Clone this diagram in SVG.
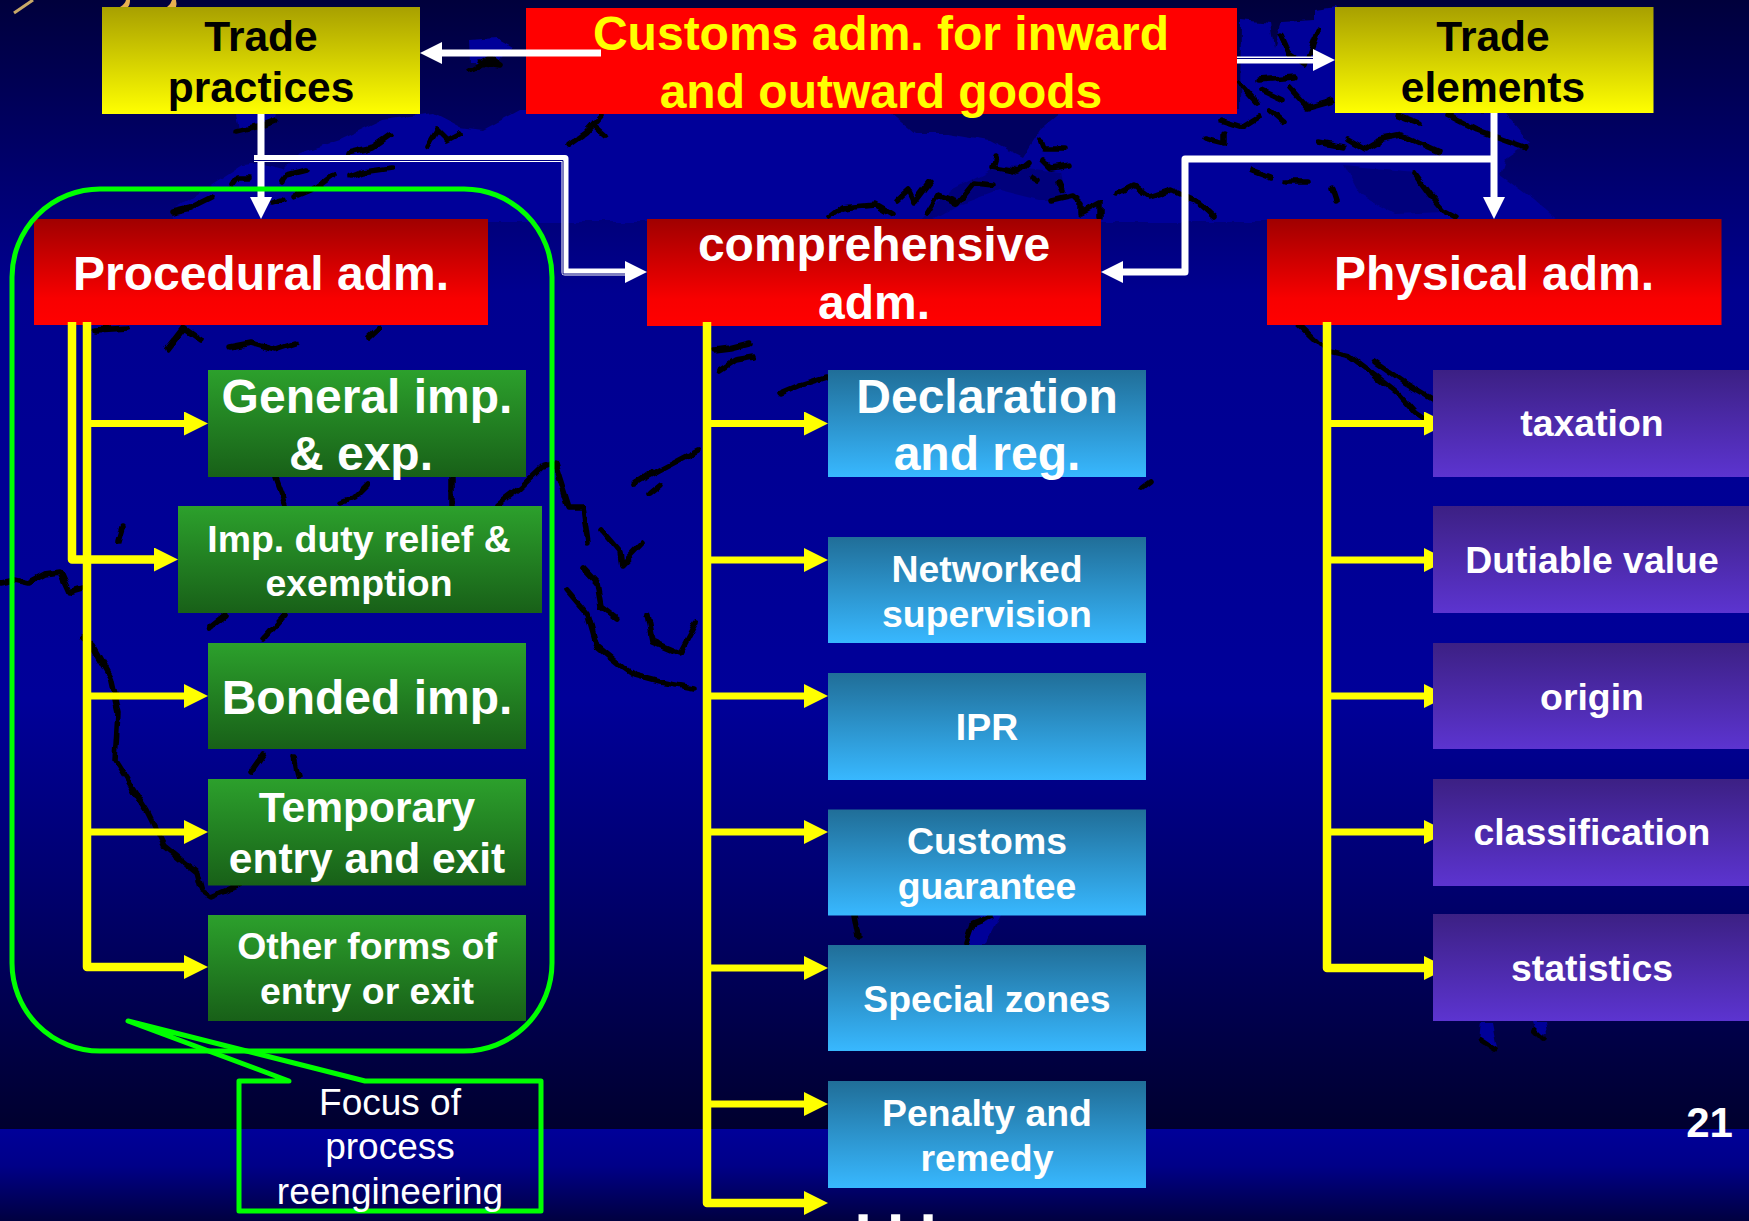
<svg xmlns="http://www.w3.org/2000/svg" width="1749" height="1221" viewBox="0 0 1749 1221">
<style>
text{font-family:"Liberation Sans",Arial,sans-serif;text-anchor:middle;font-weight:700;fill:#fff}
.y{fill:#ff0}.k{fill:#000}
.s48{font-size:48px}.s42{font-size:42.500px}.s37{font-size:37.400px}
.plain{font-weight:400;font-size:37px}
.land{fill:#000099}
.coast{fill:none;stroke:#000;stroke-width:5.500;stroke-linejoin:round;stroke-linecap:round}
.wl{fill:none;stroke:#fff;stroke-width:7;stroke-linejoin:round}
.wt{fill:none;stroke:#000080;stroke-width:1}
.yl{fill:none;stroke:#ff0;stroke-width:7;stroke-linejoin:round}
.yv{fill:none;stroke:#ff0;stroke-width:8.500;stroke-linejoin:round}
.gl{fill:none;stroke:#0f0;stroke-width:5;stroke-linejoin:round}
.by{fill:url(#gy)}.br{fill:url(#gr)}.bg{fill:url(#gg)}.bb{fill:url(#gb)}.bp{fill:url(#gp)}
</style>
<defs>
<filter id="wavy" x="-5%" y="-5%" width="110%" height="110%"><feTurbulence type="fractalNoise" baseFrequency="0.07" numOctaves="2" seed="4"/><feDisplacementMap in="SourceGraphic" scale="7" xChannelSelector="R" yChannelSelector="G"/></filter>
<linearGradient id="bg1" x1="0" y1="0" x2="0" y2="1">
<stop offset="0" stop-color="#00003c"/><stop offset=".26" stop-color="#000090"/><stop offset=".62" stop-color="#000099"/><stop offset=".78" stop-color="#000070"/><stop offset="1" stop-color="#00002e"/>
</linearGradient>
<linearGradient id="bg2" x1="0" y1="0" x2="0" y2="1"><stop offset="0" stop-color="#000099"/><stop offset=".4" stop-color="#000088"/><stop offset="1" stop-color="#000040"/></linearGradient>
<linearGradient id="gy" x1="0" y1="0" x2="0" y2="1"><stop offset="0" stop-color="#a8a000"/><stop offset="1" stop-color="#ff0"/></linearGradient>
<linearGradient id="gr" x1="0" y1="0" x2="0" y2="1"><stop offset="0" stop-color="#a00000"/><stop offset=".75" stop-color="#f80000"/><stop offset="1" stop-color="#f00"/></linearGradient>
<linearGradient id="gg" x1="0" y1="0" x2="0" y2="1"><stop offset="0" stop-color="#2ca02c"/><stop offset="1" stop-color="#186018"/></linearGradient>
<linearGradient id="gb" x1="0" y1="0" x2="0" y2="1"><stop offset="0" stop-color="#206e98"/><stop offset="1" stop-color="#38b8ff"/></linearGradient>
<linearGradient id="gp" x1="0" y1="0" x2="0" y2="1"><stop offset="0" stop-color="#3c2084"/><stop offset="1" stop-color="#5c34d0"/></linearGradient>
<marker id="ay" markerUnits="userSpaceOnUse" markerWidth="24" markerHeight="24" refX="0" refY="12" orient="auto"><path d="M0,0 L24,12 L0,24 Z" fill="#ff0"/></marker>
<marker id="aw" markerUnits="userSpaceOnUse" markerWidth="22" markerHeight="22" refX="0" refY="11" orient="auto"><path d="M0,0 L22,11 L0,22 Z" fill="#fff"/></marker>
</defs>

<g id="background">
<rect width="1749" height="1129" fill="url(#bg1)"/>
<rect y="1129" width="1749" height="92" fill="url(#bg2)"/>
<path d="M14,13 L33,0" stroke="#c8a868" stroke-width="3" fill="none"/>
<path d="M120,7 Q125,4 126,0 H130 Q130,5 128,7 Z" fill="#e8b050"/>
<path d="M167,7 Q171,4 172,0 H176 Q177,4 176,7 Z" fill="#e8b050"/>
</g>

<g id="world-map" filter="url(#wavy)">
<path class="land" d="M237,112 H277 L275,122 L240,132 Z"/>
<path class="land" d="M469,40 L497,38 L513,47 L496,62 L470,62 Z"/>
<path class="land" d="M173,222 L173,210 L220,180 L243,165 L257,163 L283,170 L300,153 L340,140 L383,120 L433,113 L460,127 L483,130 L520,110 H1240 L1241,20 L1270,23 L1274,47 L1282,22 L1315,20 L1315,10 L1336,7 L1400,112 L1505,113 L1530,143 L1505,160 L1500,175 L1534,200 L1560,222 Z"/>
<path d="M891,112 L916,133 L947,133 L990,140 L1023,157 L1040,130 L1062,112 Z" fill="#000060"/>
<path d="M1000,165 L1060,172 L1065,200 L1040,200 L1000,190 L960,205 L930,222 L920,222 L950,190 Z" fill="#00007c"/>
<path d="M1344,165 L1415,172 L1430,200 L1443,212 L1395,214 L1360,195 Z" fill="#00007c"/>
<path class="land" d="M966,945 L980,915 L1000,915 L985,945 Z"/>
<path class="land" d="M1482,1022 L1492,1022 L1497,1048 L1480,1042 Z"/>
<path class="land" d="M1533,1022 L1545,1022 L1547,1034 L1536,1032 Z"/>
<g class="coast">
<path d="M237,132 L257,127 L275,120"/>
<path d="M173,212 L190,208 L212,197"/>
<path d="M232,185 L237,178 L250,178"/>
<path d="M282,182 L287,175 L307,170"/>
<path d="M293,197 L317,187 L333,175"/>
<path d="M273,203 L283,200"/>
<path d="M350,177 L363,172 L392,168"/>
<path d="M348,153 L373,147 L390,135"/>
<path d="M427,147 L437,130 L447,140 L460,133"/>
<path d="M568,145 L585,133 L601,115"/>
<path d="M595,127 L604,135"/>
<path d="M469,70 L490,58 L500,65 L480,62"/>
<path d="M95,330 L128,328"/>
<path d="M167,350 L184,328 L201,340"/>
<path d="M229,347 L250,343 L275,350 L296,343"/>
<path d="M379,327 L368,337"/>
<path d="M636,483 L660,470 L698,450"/>
<path d="M714,350 L730,348 L750,343"/>
<path d="M720,370 L735,360 L753,357"/>
<path d="M781,393 L800,385 L826,377"/>
<path d="M0,583 L15,580 L28,583 L45,574 L60,572 L69,592 L83,588"/>
<path d="M82,637 L92,646 L110,677 L118,713 L115,760 L147,811 L165,847 L197,873 L202,891 L211,897 L239,885"/>
<path d="M275,478 L285,505"/>
<path d="M340,503 L355,497 L367,485"/>
<path d="M452,478 L452,505"/>
<path d="M498,505 L520,488 L542,467 L555,463 L569,507 L583,507 L588,543"/>
<path d="M601,530 L620,552 L622,565 L643,543"/>
<path d="M583,568 L597,583 L601,606 L618,619"/>
<path d="M567,590 L588,615 L597,646 L624,668 L634,675 L660,682 L693,688"/>
<path d="M647,615 L652,641 L680,653 L696,623"/>
<path d="M634,485 L652,472"/>
<path d="M650,494 L661,485"/>
<path d="M225,615 L211,626"/>
<path d="M264,639 L285,615"/>
<path d="M122,527 L118,541"/>
<path d="M250,773 L264,753"/>
<path d="M294,757 L298,778"/>
<path d="M996,157 L993,167 L1018,172 L1029,163"/>
<path d="M1040,140 L1043,148 L1064,148"/>
<path d="M1043,160 L1051,168 L1070,165"/>
<path d="M1032,177 L1037,180"/>
<path d="M1059,183 L1062,190"/>
<path d="M1051,200 L1073,195 L1081,203 L1081,213 L1100,203 L1100,217"/>
<path d="M927,213 L938,195 L958,203 L974,183 L993,185"/>
<path d="M829,218 L842,208 L875,205 L892,215"/>
<path d="M897,200 L908,190 L914,203 L930,182"/>
<path d="M1117,193 L1133,185 L1150,197 L1171,190 L1199,203 L1215,217"/>
<path d="M1204,138 L1224,143 L1224,135"/>
<path d="M1221,120 L1243,127 L1259,117"/>
<path d="M1239,83 L1257,103"/>
<path d="M1259,80 L1295,77"/>
<path d="M1290,88 L1307,107 L1332,100"/>
<path d="M1261,90 L1282,100"/>
<path d="M1270,110 L1284,122"/>
<path d="M1319,142 L1344,147"/>
<path d="M1348,140 L1365,150 L1377,143"/>
<path d="M1377,140 L1402,135 L1439,152"/>
<path d="M1448,115 L1477,130 L1526,148"/>
<path d="M1398,115 L1419,123"/>
<path d="M1281,35 L1290,55 L1305,65 L1318,30"/>
<path d="M1414,173 L1430,195 L1443,210 L1456,217"/>
<path d="M1286,182 L1307,182"/>
<path d="M1332,188 L1336,200"/>
<path d="M1251,170 L1270,177"/>
<path d="M1296,322 L1315,340 L1325,350 L1350,356 L1375,375 L1400,395 L1415,412 L1442,430"/>
<path d="M1375,362 L1405,383 L1434,400"/>
<path d="M1142,488 L1150,482"/>
<path d="M854,915 L858,936"/>
<path d="M966,943 L972,925 L990,918"/>
<path d="M1480,1040 L1495,1050"/>
<path d="M1535,1030 L1543,1038"/>
</g>
</g>

<g id="trade-practices"><rect class="by" x="102" y="7" width="318" height="107"/><text class="k s42" x="261" y="51">Trade</text><text class="k s42" x="261" y="102">practices</text></g>
<g id="customs-adm"><rect x="526" y="8" width="711" height="106" fill="#f00"/><text class="y s48" x="881" y="50">Customs adm. for inward</text><text class="y s48" x="881" y="108">and outward goods</text></g>
<g id="trade-elements"><rect class="by" x="1335" y="7" width="318.500" height="106"/><text class="k s42" x="1493" y="51">Trade</text><text class="k s42" x="1493" y="102">elements</text></g>
<g id="procedural-adm"><rect class="br" x="34" y="219" width="454" height="106"/><text class="s48" x="261" y="290">Procedural adm.</text></g>
<g id="comprehensive-adm"><rect class="br" x="647" y="219" width="454" height="107"/><text class="s48" x="874" y="261">comprehensive</text><text class="s48" x="874" y="319">adm.</text></g>
<g id="physical-adm"><rect class="br" x="1267" y="219" width="454.500" height="106"/><text class="s48" x="1494" y="290">Physical adm.</text></g>

<g id="general-imp"><rect class="bg" x="208" y="370" width="318" height="107"/><text class="s48" x="367" y="413">General imp.</text><text class="s48" x="361" y="470">&amp; exp.</text></g>
<g id="imp-duty-relief"><rect class="bg" x="178" y="506" width="364" height="107"/><text class="s37" x="359" y="552">Imp. duty relief &amp;</text><text class="s37" x="359" y="596">exemption</text></g>
<g id="bonded-imp"><rect class="bg" x="208" y="643" width="318" height="106"/><text class="s48" x="367" y="714">Bonded imp.</text></g>
<g id="temporary-entry"><rect class="bg" x="208" y="779" width="318" height="106.500"/><text class="s42" x="367" y="822">Temporary</text><text class="s42" x="367" y="873">entry and exit</text></g>
<g id="other-forms"><rect class="bg" x="208" y="915" width="318" height="106"/><text class="s37" x="367" y="959">Other forms of</text><text class="s37" x="367" y="1004">entry or exit</text></g>

<g id="declaration"><rect class="bb" x="828" y="370" width="318" height="107"/><text class="s48" x="987" y="413">Declaration</text><text class="s48" x="987" y="470">and reg.</text></g>
<g id="networked-supervision"><rect class="bb" x="828" y="537" width="318" height="106"/><text class="s37" x="987" y="582">Networked</text><text class="s37" x="987" y="627">supervision</text></g>
<g id="ipr"><rect class="bb" x="828" y="673" width="318" height="107"/><text class="s37" x="987" y="740">IPR</text></g>
<g id="customs-guarantee"><rect class="bb" x="828" y="809.500" width="318" height="106"/><text class="s37" x="987" y="854">Customs</text><text class="s37" x="987" y="899">guarantee</text></g>
<g id="special-zones"><rect class="bb" x="828" y="945" width="318" height="106"/><text class="s37" x="987" y="1012">Special zones</text></g>
<g id="penalty-remedy"><rect class="bb" x="828" y="1081" width="318" height="107"/><text class="s37" x="987" y="1126">Penalty and</text><text class="s37" x="987" y="1171">remedy</text></g>
<g id="more"><text style="font-size:64px;letter-spacing:14.700px" x="903" y="1224">...</text></g>

<g id="page-number"><text style="font-size:42px" x="1709.500" y="1137">21</text></g>

<g id="connectors">
<path class="wl" d="M261,114 V197" marker-end="url(#aw)"/>
<path class="wl" d="M254,158.500 H565 V272 H625" marker-end="url(#aw)"/>
<path class="wt" d="M254,160.500 H563 V274 H625"/>
<path class="wl" d="M601,53 H442" marker-end="url(#aw)"/>
<path class="wl" d="M1237,60 H1313" marker-end="url(#aw)"/>
<path class="wt" d="M1237,58.500 H1313"/>
<path class="wl" d="M1494,113 V197" marker-end="url(#aw)"/>
<path class="wl" d="M1494,159 H1185 V272 H1123" marker-end="url(#aw)"/>
<path class="yv" d="M72,322 V559.500 H154" marker-end="url(#ay)"/>
<path class="yv" d="M87,322 V967 H184" marker-end="url(#ay)"/>
<path class="yl" d="M87,423.500 H184" marker-end="url(#ay)"/>
<path class="yl" d="M87,696 H184" marker-end="url(#ay)"/>
<path class="yl" d="M87,832 H184" marker-end="url(#ay)"/>
<path class="yv" d="M707,322 V1203 H804" marker-end="url(#ay)"/>
<path class="yl" d="M707,423.500 H804" marker-end="url(#ay)"/>
<path class="yl" d="M707,560 H804" marker-end="url(#ay)"/>
<path class="yl" d="M707,696 H804" marker-end="url(#ay)"/>
<path class="yl" d="M707,832 H804" marker-end="url(#ay)"/>
<path class="yl" d="M707,968 H804" marker-end="url(#ay)"/>
<path class="yl" d="M707,1104 H804" marker-end="url(#ay)"/>
<path class="yv" d="M1327,322 V968 H1424" marker-end="url(#ay)"/>
<path class="yl" d="M1327,423.500 H1424" marker-end="url(#ay)"/>
<path class="yl" d="M1327,560 H1424" marker-end="url(#ay)"/>
<path class="yl" d="M1327,696 H1424" marker-end="url(#ay)"/>
<path class="yl" d="M1327,832 H1424" marker-end="url(#ay)"/>
</g>

<g id="taxation"><rect class="bp" x="1433" y="370" width="316" height="107"/><text class="s37" x="1592" y="436">taxation</text></g>
<g id="dutiable-value"><rect class="bp" x="1433" y="506" width="316" height="107"/><text class="s37" x="1592" y="573">Dutiable value</text></g>
<g id="origin"><rect class="bp" x="1433" y="643" width="316" height="106"/><text class="s37" x="1592" y="710">origin</text></g>
<g id="classification"><rect class="bp" x="1433" y="779" width="316" height="107"/><text class="s37" x="1592" y="845">classification</text></g>
<g id="statistics"><rect class="bp" x="1433" y="914" width="316" height="107"/><text class="s37" x="1592" y="981">statistics</text></g>

<g id="focus-group"><rect class="gl" x="12" y="189" width="540" height="862" rx="88" ry="88"/></g>
<g id="focus-callout"><path class="gl" d="M239,1081 H289 L128,1021 L365,1081 H541 V1211 H239 Z"/><text class="plain" x="390" y="1115">Focus of</text><text class="plain" x="390" y="1159">process</text><text class="plain" x="390" y="1204">reengineering</text></g>
</svg>
